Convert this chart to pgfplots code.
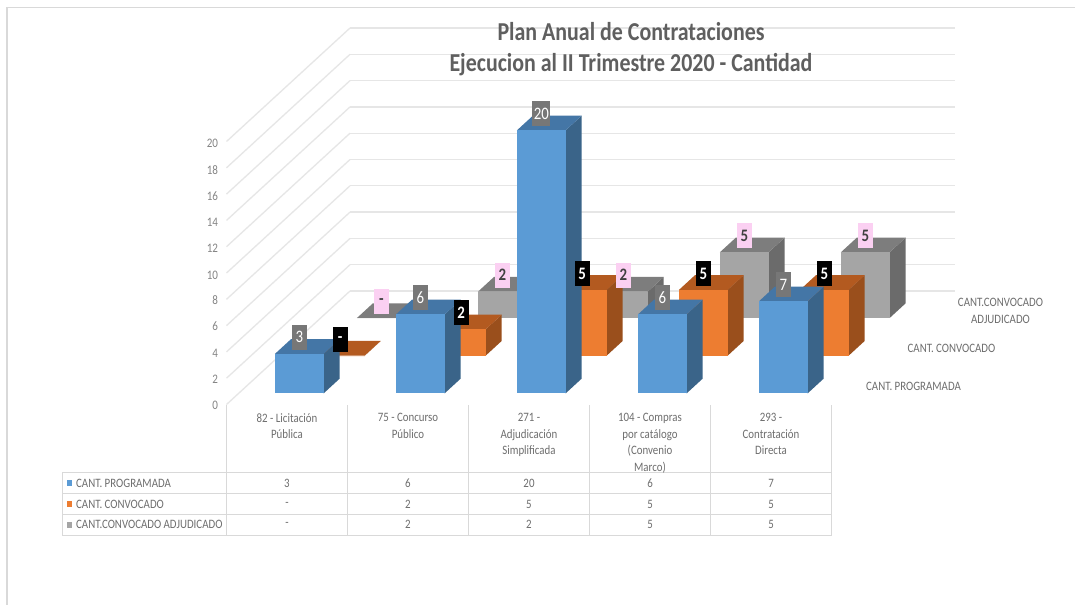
\documentclass[border=0pt]{standalone}
\usepackage{pgfplots}
\pgfplotsset{compat=1.18}
\usepackage{fontspec}
\setmainfont{Carlito}[FakeStretch=0.85]

\definecolor{gridc}{HTML}{E6E6E6}
\definecolor{framec}{HTML}{D9D9D9}
\definecolor{textc}{HTML}{6E6E6E}
\definecolor{titlec}{HTML}{5F5F5F}
\definecolor{bluef}{HTML}{5B9BD5}
\definecolor{bluet}{HTML}{4476A6}
\definecolor{blues}{HTML}{3A6489}
\definecolor{orangef}{HTML}{ED7D31}
\definecolor{oranget}{HTML}{B35A20}
\definecolor{oranges}{HTML}{9A4F1C}
\definecolor{grayf}{HTML}{A5A5A5}
\definecolor{grayt}{HTML}{7D7D7D}
\definecolor{grays}{HTML}{6B6B6B}
\definecolor{pinkl}{HTML}{FBD0F2}

% one 3D bar: category, front depth, value, colours front/top/side
\newcommand{\barra}[6]{%
  \pgfmathsetmacro\xa{#1+0.3}%
  \pgfmathsetmacro\xb{#1+0.7025}%
  \pgfmathsetmacro\yb{#2+0.389}%
  \edef\caras{%
    \noexpand\addplot3[fill=#6,draw=none] coordinates {(\xb,#2,0) (\xb,\yb,0) (\xb,\yb,#3) (\xb,#2,#3)};
    \noexpand\addplot3[fill=#5,draw=none] coordinates {(\xa,#2,#3) (\xb,#2,#3) (\xb,\yb,#3) (\xa,\yb,#3)};
    \noexpand\addplot3[fill=#4,draw=none] coordinates {(\xa,#2,0) (\xb,#2,0) (\xb,#2,#3) (\xa,#2,#3)};
  }\caras
}
% value label above the front top edge of a bar
\newcommand{\etiq}[5]{%
  \pgfmathsetmacro\xc{#1+0.5012}%
  \edef\nodo{\noexpand\node[#4] at (axis cs:\xc,#2,#3) {#5};}\nodo
}

\begin{document}
\begin{tikzpicture}[x=1bp,y=-1bp,
    lab/.style={font=\fontsize{12.8bp}{16.5bp}\selectfont,text=textc,align=center},
    vb/.style={yshift=16.5bp,minimum width=15bp,minimum height=25bp,inner sep=1.6bp,
      font=\fontsize{17.5bp}{18bp}\selectfont},
    vblue/.style={vb,fill=grayt!95!black,text=white},
    vorange/.style={vb,fill=black,text=white,font=\fontsize{17.5bp}{18bp}\selectfont\bfseries},
    vgray/.style={vb,fill=pinkl,text=black!75,font=\fontsize{17.5bp}{18bp}\selectfont\bfseries}]
  \useasboundingbox (0,0) rectangle (1075,605);
  \fill[white] (0,0) rectangle (1075,605);
  \draw[framec,line width=1.2bp] (7,605) -- (7,7.5) -- (1075,7.5);

  \begin{axis}[
    at={(226.5bp,-404.5bp)}, anchor=origin,
    x={(121bp,0bp)}, y={(41.17bp,37.83bp)}, z={(0bp,13.15bp)},
    xmin=0, xmax=5, ymin=0, ymax=3, zmin=0, zmax=20,
    xtick=\empty, ytick=\empty, ztick={0,2,...,20},
    zmajorgrids,
    major grid style={draw=gridc,line width=1.3bp},
    axis line style={draw=none},
    tick style={draw=none},
    ticklabel style={font=\fontsize{13bp}{14bp}\selectfont,text=textc!85,xshift=-5bp,yshift=1.5bp},
    /pgf/number format/assume math mode=true,
    clip=false,
  ]
  % gray series, at the back
  \barra{0}{2.287}{0}{grayf}{grayt}{grays}
  \barra{1}{2.287}{2}{grayf}{grayt}{grays}
  \barra{2}{2.287}{2}{grayf}{grayt}{grays}
  \barra{3}{2.287}{5}{grayf}{grayt}{grays}
  \barra{4}{2.287}{5}{grayf}{grayt}{grays}
  % orange series
  \barra{0}{1.29}{0}{orangef}{oranget}{oranges}
  \barra{1}{1.29}{2}{orangef}{oranget}{oranges}
  \barra{2}{1.29}{5}{orangef}{oranget}{oranges}
  \barra{3}{1.29}{5}{orangef}{oranget}{oranges}
  \barra{4}{1.29}{5}{orangef}{oranget}{oranges}
  % blue series, in front
  \barra{0}{0.296}{3}{bluef}{bluet}{blues}
  \barra{1}{0.296}{6}{bluef}{bluet}{blues}
  \barra{2}{0.296}{20}{bluef}{bluet}{blues}
  \barra{3}{0.296}{6}{bluef}{bluet}{blues}
  \barra{4}{0.296}{7}{bluef}{bluet}{blues}
  % labels on top of everything
  \etiq{0}{2.287}{0}{vgray}{-}
  \etiq{1}{2.287}{2}{vgray}{2}
  \etiq{2}{2.287}{2}{vgray}{2}
  \etiq{3}{2.287}{5}{vgray}{5}
  \etiq{4}{2.287}{5}{vgray}{5}
  \etiq{0}{1.29}{0}{vorange}{-}
  \etiq{1}{1.29}{2}{vorange}{2}
  \etiq{2}{1.29}{5}{vorange}{5}
  \etiq{3}{1.29}{5}{vorange}{5}
  \etiq{4}{1.29}{5}{vorange}{5}
  \etiq{0}{0.296}{3}{vblue}{3}
  \etiq{1}{0.296}{6}{vblue}{6}
  \etiq{2}{0.296}{20}{vblue}{20}
  \etiq{3}{0.296}{6}{vblue}{6}
  \etiq{4}{0.296}{7}{vblue}{7}
  \end{axis}

  % title
  \node[font=\fontsize{25.8bp}{31bp}\selectfont\bfseries,text=titlec,align=center] at (631,49.5)
    {Plan Anual de Contrataciones\\Ejecucion al II Trimestre 2020 - Cantidad};

  % series names along the depth axis
  \node[lab] at (913.5,386.5) {CANT. PROGRAMADA};
  \node[lab] at (951.5,348.5) {CANT. CONVOCADO};
  \node[lab] at (1000.5,311) {CANT.CONVOCADO\\ADJUDICADO};

  % data table
  \foreach \xx in {226.5,347.5,468.5,589.5,710.5,831.5}
    \draw[framec,line width=1bp] (\xx,405) -- (\xx,535);
  \draw[framec,line width=1bp] (62.5,472.5) rectangle (831.5,535);
  \draw[framec,line width=1bp] (62.5,493.5) -- (831.5,493.5);
  \draw[framec,line width=1bp] (62.5,514.5) -- (831.5,514.5);

  \node[lab,anchor=north] at (287,410) {82 - Licitación\\Pública};
  \node[lab,anchor=north] at (408,410) {75 - Concurso\\Público};
  \node[lab,anchor=north] at (529,410) {271 -\\Adjudicación\\Simplificada};
  \node[lab,anchor=north] at (650,410) {104 - Compras\\por catálogo\\(Convenio\\Marco)};
  \node[lab,anchor=north] at (771,410) {293 -\\Contratación\\Directa};

  \fill[bluef] (66.7,480) rectangle (72.3,486);
  \fill[orangef] (66.7,501) rectangle (72.3,507);
  \fill[grayf] (66.7,521.5) rectangle (72.3,527.5);
  \node[lab,anchor=west,inner sep=0pt] at (76,483) {CANT. PROGRAMADA};
  \node[lab,anchor=west,inner sep=0pt] at (76,504) {CANT. CONVOCADO};
  \node[lab,anchor=west,inner sep=0pt] at (76,524.5) {CANT.CONVOCADO ADJUDICADO};

  \foreach \xx/\a/\b/\c in {287/3/-/-,408/6/2/2,529/20/5/2,650/6/5/5,771/7/5/5} {
    \node[lab] at (\xx,483) {\a};
    \node[lab] at (\xx,504) {\b};
    \node[lab] at (\xx,524.5) {\c};
  }
\end{tikzpicture}
\end{document}
